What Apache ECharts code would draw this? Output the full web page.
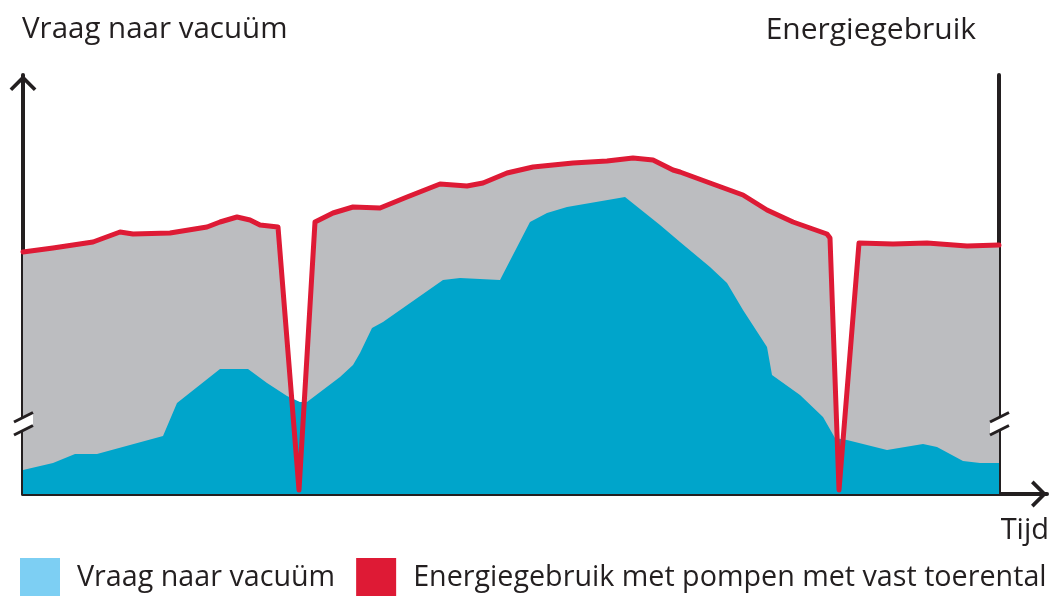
<!DOCTYPE html>
<html>
<head>
<meta charset="utf-8">
<script src="https://cdn.jsdelivr.net/npm/echarts@6/dist/echarts.min.js"></script>
<style>
html,body{margin:0;padding:0;background:#fff;}
#chart{width:1055px;height:596px;}
</style>
</head>
<body>
<div id="chart"></div>
<script>
// Time positions (arbitrary units) and values
const energyTime  = [0, 30, 70, 97, 110, 147, 184, 197, 214, 227, 237, 255, 276, 292, 310, 330, 357, 384, 417, 444, 460, 484, 510, 550, 584, 610, 630, 650, 657, 687, 720, 744, 770, 804, 807, 816, 836, 870, 904, 944, 976];
const energyValue = [242, 246, 252, 262, 260, 261, 267, 272, 277, 274, 269, 267, 4, 272, 281, 287, 286, 297, 310, 308, 311, 321, 327, 331, 333, 336, 334, 324, 322, 311, 299, 284, 272, 260, 256, 4, 251, 250, 251, 248, 249];

const vacuumTime  = [0, 30, 52, 74, 140, 154, 197, 225, 244, 264, 277, 284, 317, 330, 337, 349, 360, 420, 437, 477, 507, 524, 544, 602, 637, 657, 687, 704, 720, 744, 749, 777, 800, 812, 824, 864, 900, 914, 940, 957, 976];
const vacuumValue = [24, 31, 40, 40, 58, 91, 125, 125, 111, 98, 92, 92, 117, 129, 141, 166, 172, 214, 216, 214, 272, 281, 287, 297, 269, 252, 227, 211, 184, 147, 119, 99, 77, 56, 54, 44, 50, 47, 33, 31, 31];

const nameVacuum = 'Vraag naar vacuüm';
const nameEnergy = 'Energiegebruik met pompen met vast toerental';
const titleLeft = 'Vraag naar vacuüm';
const titleRight = 'Energiegebruik';
const xName = 'Tijd';

const energyData = energyTime.map((t, i) => [t, energyValue[i]]);
const vacuumData = vacuumTime.map((t, i) => [t, vacuumValue[i]]);

const FONT = 'Open Sans';
const INK = '#231F20';
const chevron = 'path://M13,0 L26,13 L23.5,15.5 L13,5 L2.5,15.5 L0,13 Z';

const chart = echarts.init(document.getElementById('chart'), null, {renderer: 'canvas'});

function breakMark(x0) {
  return {
    type: 'group',
    children: [
      {type: 'polygon', shape: {points: [[x0, 422], [x0 + 19, 412.5], [x0 + 19, 425.5], [x0, 435]]}, style: {fill: '#fff'}, z: 100},
      {type: 'line', shape: {x1: x0, y1: 422, x2: x0 + 19, y2: 412.5}, style: {stroke: INK, lineWidth: 3}, z: 101},
      {type: 'line', shape: {x1: x0, y1: 435, x2: x0 + 19, y2: 425.5}, style: {stroke: INK, lineWidth: 3}, z: 101}
    ]
  };
}

chart.setOption({
  animation: false,
  grid: {left: 23, right: 8, top: 75, bottom: 102},
  title: [
    {text: titleLeft, left: 17, top: 10, textStyle: {fontFamily: FONT, fontSize: 29.5, fontWeight: 'normal', color: INK}},
    {text: titleRight, right: 74, top: 10, textStyle: {fontFamily: FONT, fontSize: 30, fontWeight: 'normal', color: INK}},
    {text: xName, right: 1, top: 511, textStyle: {fontFamily: FONT, fontSize: 29, fontWeight: 'normal', color: INK}}
  ],
  legend: {
    left: 20, top: 558, padding: 0,
    itemWidth: 40, itemHeight: 40, itemGap: 21,
    icon: 'rect',
    selectedMode: false,
    textStyle: {fontFamily: FONT, fontSize: 28.7, color: INK, padding: [0, 0, 0, 12]},
    data: [
      {name: nameVacuum, itemStyle: {color: '#7DCFF3'}},
      {name: nameEnergy, itemStyle: {color: '#DE1A35'}}
    ]
  },
  xAxis: {
    type: 'value', min: 0, max: 1024,
    axisLine: {show: true, symbol: ['none', chevron], symbolSize: [28, 16], symbolOffset: [0, -8], lineStyle: {color: INK, width: 4}},
    axisTick: {show: false}, axisLabel: {show: false}, splitLine: {show: false}
  },
  yAxis: [
    {
      type: 'value', min: 0, max: 419, position: 'left',
      axisLine: {show: true, symbol: ['none', chevron], symbolSize: [28, 16], symbolOffset: [0, -8], lineStyle: {color: INK, width: 4}},
      axisTick: {show: false}, axisLabel: {show: false}, splitLine: {show: false}
    },
    {
      type: 'value', min: 0, max: 419, position: 'right', offset: -48,
      axisLine: {show: true, lineStyle: {color: INK, width: 4}},
      axisTick: {show: false}, axisLabel: {show: false}, splitLine: {show: false}
    }
  ],
  series: [
    {
      name: 'grijs', type: 'line', data: energyData, showSymbol: false, silent: true,
      lineStyle: {width: 0}, areaStyle: {color: '#BCBDC0', opacity: 1}, z: 1
    },
    {
      name: nameVacuum, type: 'line', data: vacuumData, showSymbol: false, silent: true,
      itemStyle: {color: '#00A5CB'},
      lineStyle: {width: 0}, areaStyle: {color: '#00A5CB', opacity: 1}, z: 2
    },
    {
      name: nameEnergy, type: 'line', data: energyData, showSymbol: false, silent: true,
      itemStyle: {color: '#DE1A35'},
      lineStyle: {width: 5, color: '#DE1A35', join: 'round', cap: 'round'}, z: 3
    }
  ],
  graphic: [breakMark(14), breakMark(990)]
});
</script>
</body>
</html>
